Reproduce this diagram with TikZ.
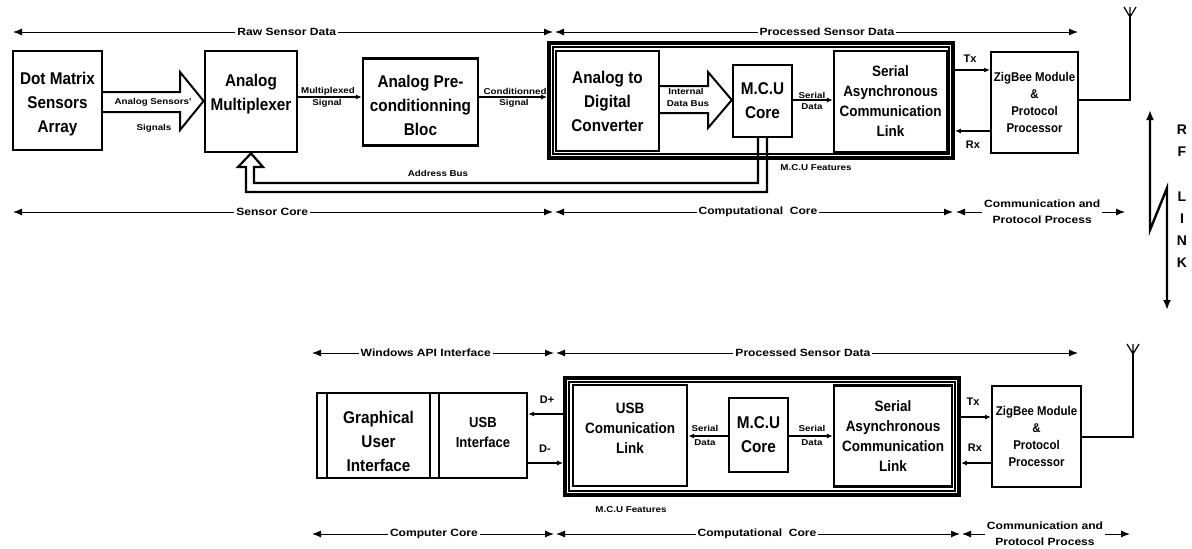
\documentclass[tikz,border=0pt]{standalone}
\usepackage{fontspec}
\setmainfont{Liberation Sans}
\newfontfamily\bxf{Liberation Sans}[FakeStretch=0.9]
\newfontfamily\dmf{Liberation Sans}[FakeStretch=1.15]
\usetikzlibrary{arrows.meta,calc}
\begin{document}
\begin{tikzpicture}[x=1pt,y=-1pt,
  boxs/.style={draw, line width=2.4pt, inner sep=2pt, align=center},
  bigf/.style={font={\bxf\bfseries\fontsize{17}{24}\selectfont}, align=center},
  medf/.style={font={\bxf\bfseries\fontsize{15}{20}\selectfont}, align=center},
  usbf/.style={font={\bxf\bfseries\fontsize{14.5}{20}\selectfont}, align=center},
  smf/.style={font={\bxf\bfseries\fontsize{12.7}{17}\selectfont}, align=center},
  lbl/.style={font={\dmf\bfseries\fontsize{8.5}{10}\selectfont}, inner sep=1pt},
  txf/.style={font={\bfseries\fontsize{11}{12}\selectfont}, inner sep=1pt},
  conn/.style={line width=1.3pt, -{Latex[length=6pt,width=5pt]}},
  hollow/.style={line width=2pt, fill=white, line join=miter},
  bus/.style={line width=2.2pt, line join=miter},
  dim/.style={line width=1pt, {Latex[length=9pt,width=7pt]}-{Latex[length=9pt,width=7pt]}},
  dimlbl/.style={fill=white, inner sep=2pt, align=center, font={\dmf\bfseries\fontsize{10.5}{16}\selectfont}},
  rf/.style={line width=2.4pt, line join=miter, {Latex[length=10pt,width=8pt]}-{Latex[length=10pt,width=8pt]}},
  rff/.style={font={\bfseries\fontsize{14}{22}\selectfont}, align=center}
]
\useasboundingbox (0,0) rectangle (1192,549);

% ---------------- top row ----------------
\node[boxs, line width=2pt, minimum width=89, minimum height=99] (dms) at (57.5,100.5) {};
\node[bigf] (dmst) at (57.5,104) {Dot Matrix\\Sensors\\Array};
\node[boxs, line width=2.8pt, minimum width=92, minimum height=101] (mux) at (251,101.5) {};
\node[bigf] (muxt) at (251,94) {Analog\\Multiplexer};
\node[boxs, minimum width=115, minimum height=87] (pre) at (420.5,102) {};
\node[bigf] (pret) at (420.5,105) {Analog Pre-\\conditionning\\Bloc};
\node[draw, line width=3.8pt, minimum width=404, minimum height=115] (ob1) at (751,100.5) {};
\node[draw, line width=1.4pt, minimum width=396, minimum height=107] (ib1) at (751,100.5) {};
\node[boxs, minimum width=103, minimum height=100, bigf] (adc) at (607.5,101) {Analog to\\Digital\\Converter};
\node[boxs, minimum width=59, minimum height=72, bigf] (mcu) at (762.5,101) {M.C.U\\Core};
\node[boxs, minimum width=113, minimum height=101, medf] (ser) at (890.5,101.5) {Serial\\Asynchronous\\Communication\\Link};
\node[boxs, line width=2pt, minimum width=87, minimum height=101, smf] (zig) at (1034.5,102) {ZigBee Module\\\&\\Protocol\\Processor};

% hollow arrow sensors -> mux
\draw[hollow] (dms.east |- 0,92) -- (180,92) -- (180,72) -- (mux.west |- 0,101) -- (180,130) -- (180,112) -- (dms.east |- 0,112);
\node[lbl] (asl) at (153,102) {Analog Sensors'};
\node[lbl] (asl2) at (154,128) {Signals};

\draw[conn] (mux.east |- 0,97) -- (pre.west |- 0,97);
\node[lbl] (ms1) at (328,91) {Multiplexed};
\node[lbl] (ms2) at (327,103) {Signal};
\draw[conn] (pre.east |- 0,97) -- (ob1.west |- 0,97);
\node[lbl] (cs1) at (515,91) {Conditionned};
\node[lbl] (cs2) at (514,103) {Signal};

% internal data bus
\draw[hollow] (adc.east |- 0,86) -- (708,86) -- (708,72) -- (mcu.west |- 0,100) -- (708,128) -- (708,113) -- (adc.east |- 0,113);
\node[lbl] (idb1) at (686,91) {Internal};
\node[lbl] (idb2) at (688,104) {Data Bus};

\draw[conn] (mcu.east |- 0,100) -- (ser.west |- 0,100);
\node[lbl] (sd1) at (812,95) {Serial};
\node[lbl] (sd2) at (812,107) {Data};

\draw[conn] (ob1.east |- 0,70) -- (zig.west |- 0,70);
\draw[conn] (zig.west |- 0,131) -- (ob1.east |- 0,131);
\node[txf] (tx1) at (970,59) {Tx};
\node[txf] (rx1) at (973,145) {Rx};

% antenna top
\coordinate (ant1) at (1130,17);
\draw[line width=1.3pt] (zig.east |- 0,100) -| (ant1);
\draw[line width=1.2pt] (1124,7) -- (ant1) -- (1136,7) (ant1) -- (1130,7);

% address bus
\draw[bus] (mcu.south -| 758,0) -- (758,183) -- (254,183) -- (254,167) -- (263,167) -- (mux.south -| 251,0) -- (238,167) -- (246,167) -- (246,192) -- (767,192) -- (mcu.south -| 767,0);
\node[lbl] (ab) at (438,173) {Address Bus};
\node[lbl] (mf1) at (816,168) {M.C.U Features};

% dimension lines top
\coordinate (t1a) at (13,32);
\coordinate (t1m1) at (553,32);
\coordinate (t1m2) at (555,32);
\coordinate (t1b) at (1078,32);
\draw[dim] (t1a) -- node[dimlbl, pos=0.507] (l1) {Raw Sensor Data} (t1m1);
\draw[dim] (t1m2) -- node[dimlbl, pos=0.52] (l2) {Processed Sensor Data} (t1b);

\coordinate (t2a) at (13,212);
\coordinate (t2m1) at (553,212);
\coordinate (t2m2) at (555,212);
\coordinate (t2n1) at (953,212);
\coordinate (t2n2) at (956,212);
\coordinate (t2b) at (1125,212);
\draw[dim] (t2a) -- node[dimlbl, pos=0.48] (l3) {Sensor Core} (t2m1);
\draw[dim] (t2m2) -- node[dimlbl, pos=0.51] (l4) {Computational~~Core} (t2n1);
\draw[dim] (t2n2) -- node[dimlbl, pos=0.51] (l5) {Communication and\\Protocol Process} (t2b);

% RF link
\coordinate (rfa) at (1150,110);
\coordinate (rfb) at (1150,230);
\coordinate (rfc) at (1167,188);
\coordinate (rfd) at (1167,310);
\draw[rf] (rfa) -- (rfb) -- (rfc) -- (rfd);
\node[rff] (rf1) at (1182,141) {R\\F};
\node[rff] (rf2) at (1182,230) {L\\I\\N\\K};

% ---------------- bottom row ----------------
\node[boxs, line width=2.2pt, minimum width=210, minimum height=85] (pc) at (422,435.5) {};
\draw[line width=1.3pt] (pc.north -| 327,0) -- (pc.south -| 327,0);
\draw[line width=1.3pt] (pc.north -| 430,0) -- (pc.south -| 430,0);
\draw[line width=1.3pt] (pc.north -| 439,0) -- (pc.south -| 439,0);
\node[bigf] (gui) at (378.5,441) {Graphical\\User\\Interface};
\node[usbf] (usbi) at (483,433) {USB\\Interface};

\node[draw, line width=3.8pt, minimum width=394, minimum height=117] (ob2) at (762,436.5) {};
\node[draw, line width=1.4pt, minimum width=386, minimum height=109] (ib2) at (762,436.5) {};
\node[boxs, minimum width=114, minimum height=101] (usbc) at (630,435.5) {};
\node[medf] (usbct) at (630,428) {USB\\Comunication\\Link};
\node[boxs, minimum width=59, minimum height=74, bigf] (mcu2) at (758.5,435) {M.C.U\\Core};
\node[boxs, minimum width=118, minimum height=101, medf] (ser2) at (893,436) {Serial\\Asynchronous\\Communication\\Link};
\node[boxs, line width=2pt, minimum width=89, minimum height=101, smf] (zig2) at (1036.5,436.5) {ZigBee Module\\\&\\Protocol\\Processor};

\draw[conn] (mcu2.west |- 0,436) -- (usbc.east |- 0,436);
\node[lbl] (bs1) at (705,428) {Serial};
\node[lbl] (bs2) at (705,443) {Data};
\draw[conn] (mcu2.east |- 0,436) -- (ser2.west |- 0,436);
\node[lbl] (bs3) at (812,428) {Serial};
\node[lbl] (bs4) at (812,443) {Data};

\draw[conn] (ob2.east |- 0,417) -- (zig2.west |- 0,417);
\draw[conn] (zig2.west |- 0,463) -- (ob2.east |- 0,463);
\node[txf] (tx2) at (973,402) {Tx};
\node[txf] (rx2) at (975,448) {Rx};

\draw[conn] (ob2.west |- 0,414) -- (pc.east |- 0,414);
\draw[conn] (pc.east |- 0,463) -- (ob2.west |- 0,463);
\node[txf] (dp) at (547,400) {D+};
\node[txf] (dm) at (545,449) {D-};

\coordinate (ant2) at (1133,354);
\draw[line width=1.3pt] (zig2.east |- 0,437) -| (ant2);
\draw[line width=1.2pt] (1127,344) -- (ant2) -- (1139,344) (ant2) -- (1133,344);

\node[lbl] (mf2) at (631,510) {M.C.U Features};

% dimension lines bottom
\coordinate (b1a) at (312,353);
\coordinate (b1m1) at (554,353);
\coordinate (b1m2) at (556,353);
\coordinate (b1b) at (1078,353);
\draw[dim] (b1a) -- node[dimlbl, pos=0.47] (l6) {Windows API Interface} (b1m1);
\draw[dim] (b1m2) -- node[dimlbl, pos=0.473] (l7) {Processed Sensor Data} (b1b);

\coordinate (b2a) at (312,534);
\coordinate (b2m1) at (554,534);
\coordinate (b2m2) at (556,534);
\coordinate (b2n1) at (960,534);
\coordinate (b2n2) at (962,534);
\coordinate (b2b) at (1130,534);
\draw[dim] (b2a) -- node[dimlbl, pos=0.504] (l8) {Computer Core} (b2m1);
\draw[dim] (b2m2) -- node[dimlbl, pos=0.4975] (l9) {Computational~~Core} (b2n1);
\draw[dim] (b2n2) -- node[dimlbl, pos=0.494] (l10) {Communication and\\Protocol Process} (b2b);
\end{tikzpicture}
\end{document}
